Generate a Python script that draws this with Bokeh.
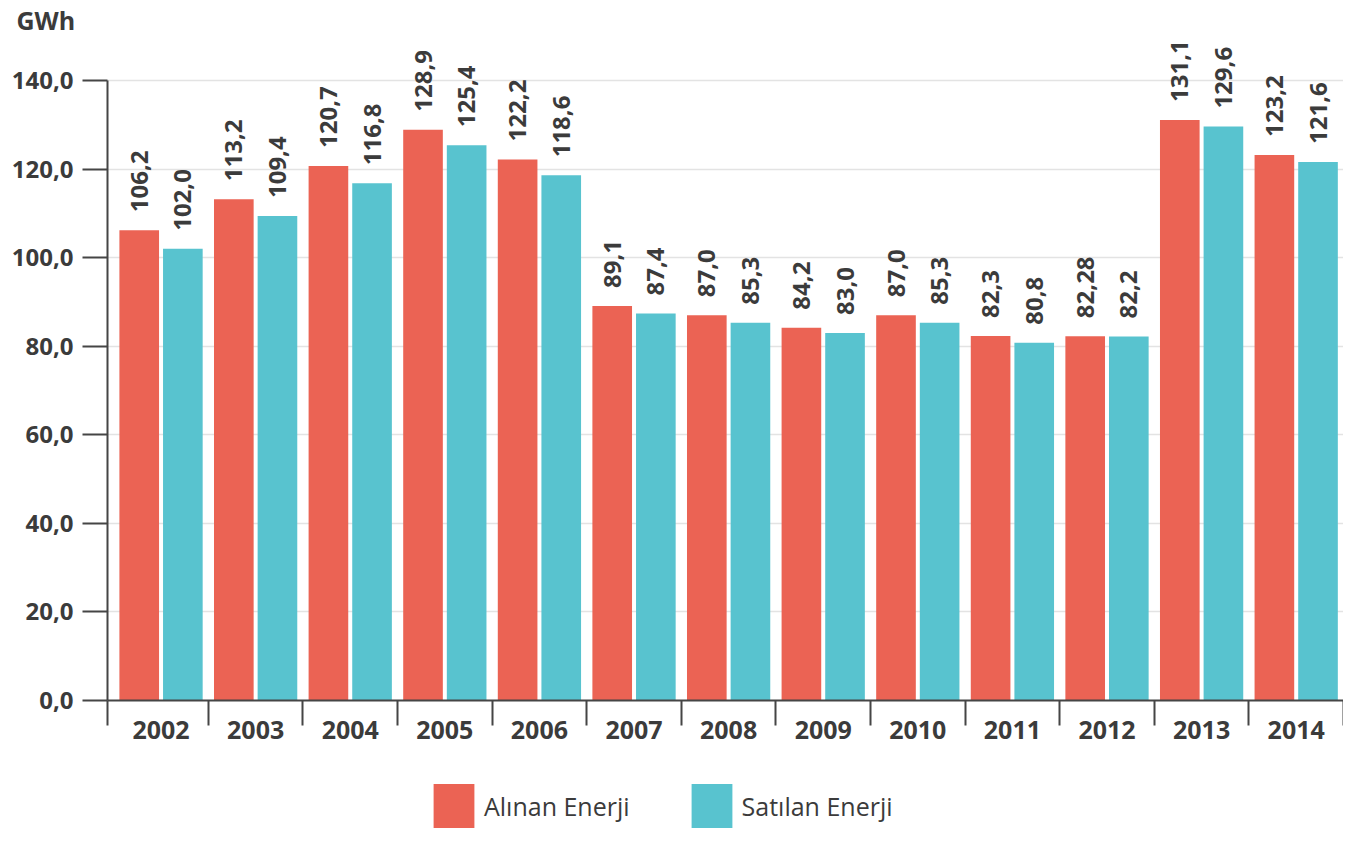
from math import pi
from bokeh.plotting import figure
from bokeh.layouts import column
from bokeh.models import (ColumnDataSource, FixedTicker, Legend, LegendItem,
                          Range1d)
from bokeh.core.properties import value
from bokeh.embed import file_html
from bokeh.resources import INLINE

# ---- data ----
years = ["2002", "2003", "2004", "2005", "2006", "2007", "2008",
         "2009", "2010", "2011", "2012", "2013", "2014"]
alinan = [106.2, 113.2, 120.7, 128.9, 122.2, 89.1, 87.0,
          84.2, 87.0, 82.3, 82.28, 131.1, 123.2]
satilan = [102.0, 109.4, 116.8, 125.4, 118.6, 87.4, 85.3,
           83.0, 85.3, 80.8, 82.2, 129.6, 121.6]
y_ticks = [0, 20, 40, 60, 80, 100, 120, 140]
y_tick_labels = ["0,0", "20,0", "40,0", "60,0", "80,0", "100,0", "120,0", "140,0"]
series_names = ["Alınan Enerji", "Satılan Enerji"]
unit_label = "GWh"

# ---- style ----
colors = ["#EB6354", "#58C3CF"]
FONT = "Open Sans"
TEXT = "#3b3b3b"
AXIS = "#454545"


def fmt(v):
    return str(v).replace(".", ",")


idx = list(range(len(years)))
off = 0.2306
bw = 0.419
x_start, x_end = -0.566, 12.5
y_end = 149.95

src_a = ColumnDataSource(dict(x=[i - off for i in idx], top=alinan,
                              label=[fmt(v) for v in alinan]))
src_s = ColumnDataSource(dict(x=[i + off for i in idx], top=satilan,
                              label=[fmt(v) for v in satilan]))

p = figure(width=1343, height=755, output_backend="svg", toolbar_location=None,
           x_range=Range1d(x_start, x_end), y_range=Range1d(0, y_end),
           min_border_left=107, min_border_right=0, min_border_top=0,
           min_border_bottom=55, title=unit_label)
p.outline_line_color = None
p.background_fill_color = "white"
p.border_fill_color = "white"

p.title.align = "left"
p.title.offset = -91
p.title.standoff = 0
p.title.text_font = FONT
p.title.text_font_size = "25px"
p.title.text_font_style = "bold"
p.title.text_color = TEXT

r1 = p.vbar(x="x", top="top", width=bw, source=src_a, fill_color=colors[0],
            line_color=None)
r2 = p.vbar(x="x", top="top", width=bw, source=src_s, fill_color=colors[1],
            line_color=None)

for src in (src_a, src_s):
    p.text(x="x", y="top", text="label", source=src, angle=pi / 2,
           text_align="left", text_baseline="middle", y_offset=-18,
           text_font=value(FONT), text_font_size="24px",
           text_font_style="bold", text_color=TEXT)

# ---- y axis ----
yt = FixedTicker(ticks=y_ticks, minor_ticks=[])
p.yaxis.ticker = yt
p.ygrid.ticker = yt
p.yaxis.major_label_overrides = {t: l for t, l in zip(y_ticks, y_tick_labels)}
p.yaxis.bounds = (y_ticks[0], y_ticks[-1])
p.yaxis.axis_line_color = AXIS
p.yaxis.axis_line_width = 2
p.yaxis.major_tick_line_color = AXIS
p.yaxis.major_tick_line_width = 2
p.yaxis.major_tick_out = 25
p.yaxis.major_tick_in = 0
p.yaxis.minor_tick_line_color = None
p.yaxis.major_label_standoff = 9
p.yaxis.major_label_text_font = FONT
p.yaxis.major_label_text_font_size = "24px"
p.yaxis.major_label_text_font_style = "bold"
p.yaxis.major_label_text_color = TEXT
p.ygrid.grid_line_color = "#e3e3e3"
p.ygrid.grid_line_width = 1.5
p.xgrid.visible = False

# ---- x axis ----
boundaries = [x_start + 0.001] + [i + 0.5 for i in idx[:-1]] + [x_end - 0.003]
p.xaxis.ticker = FixedTicker(ticks=idx, minor_ticks=boundaries)
p.xaxis.major_label_overrides = {i: y for i, y in zip(idx, years)}
p.xaxis.axis_line_color = AXIS
p.xaxis.axis_line_width = 2
p.xaxis.major_tick_line_color = None
p.xaxis.major_tick_out = 0
p.xaxis.major_tick_in = 0
p.xaxis.minor_tick_line_color = AXIS
p.xaxis.minor_tick_line_width = 2
p.xaxis.minor_tick_out = 25
p.xaxis.minor_tick_in = 0
p.xaxis.major_label_standoff = -5
p.xaxis.major_label_text_font = FONT
p.xaxis.major_label_text_font_size = "25px"
p.xaxis.major_label_text_font_style = "bold"
p.xaxis.major_label_text_color = TEXT

# ---- legend (separate strip below the chart; its frame aligns with the chart's) ----
lg = figure(width=1343, height=73, output_backend="svg", toolbar_location=None,
            x_range=Range1d(-1000, -999), y_range=Range1d(-1000, -999),
            min_border=0, x_axis_location=None, y_axis_location=None)
lg.outline_line_color = None
lg.grid.visible = False
# same data as the chart; the strip's ranges keep these bars out of view
d1 = lg.vbar(x="x", top="top", width=bw, source=src_a, fill_color=colors[0],
             line_color=None)
d2 = lg.vbar(x="x", top="top", width=bw, source=src_s, fill_color=colors[1],
             line_color=None)
legend = Legend(items=[LegendItem(label=series_names[0], renderers=[d1]),
                       LegendItem(label=series_names[1], renderers=[d2])],
                orientation="horizontal", location=(321, -5),
                glyph_width=51, glyph_height=55, label_standoff=5,
                spacing=56, padding=0, margin=0, border_line_color=None,
                background_fill_alpha=0, label_text_font=FONT,
                label_text_font_size="25px", label_text_color=TEXT,
                label_height=55)
lg.add_layout(legend, "center")

open("out.html", "w").write(file_html(column(p, lg), INLINE))
